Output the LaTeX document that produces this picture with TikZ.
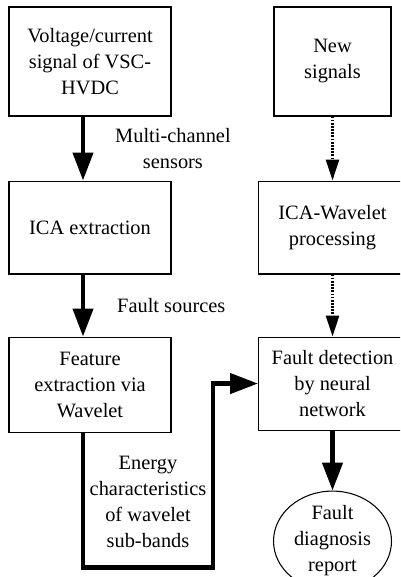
\documentclass[tikz,border=0pt]{standalone}
\usepackage{fontspec}
\setmainfont{Liberation Serif}
\usepackage{tikz}
\usetikzlibrary{shapes,arrows.meta,positioning,calc}
\usepackage{xcolor}

\begin{document}
\begin{tikzpicture}[x=0.02cm, y=-0.02cm,
    >={Triangle[length=0.56cm, width=0.4cm]},
    stage/.style={rectangle, draw, line width=0.6pt, align=center, inner sep=1pt, font=\fontsize{11.6}{14.8}\selectfont},
    result/.style={ellipse, draw, line width=0.6pt, align=center, inner xsep=0pt, inner ysep=-2pt, minimum width=2.36cm, minimum height=2cm, font=\fontsize{11.6}{14.8}\selectfont},
    flow/.style={->, line width=2.5pt},
    newflow/.style={-{Triangle[length=0.42cm, width=0.26cm]}, dash pattern=on 1pt off 0.8pt, line width=1.5pt},
    note/.style={align=center, inner sep=0pt, font=\fontsize{11.6}{14.8}\selectfont}]

    \useasboundingbox (0,0) rectangle (400,577);
    \clip (0,0) rectangle (400,577);

    \node[stage, minimum width=3.24cm, minimum height=2.18cm] (signal) at (90,61.5) {Voltage/current\\ signal of VSC-\\ HVDC};
    \node[stage, minimum width=3.24cm, minimum height=1.86cm, below=1.28cm of signal] (ica) {ICA extraction};
    \node[stage, minimum width=3.24cm, minimum height=1.9cm, below=1.24cm of ica] (feature) {Feature\\ extraction via\\ Wavelet};

    \node[stage, minimum width=2.34cm, minimum height=2.18cm, right=2.04cm of signal] (newsig) {New\\ signals};
    \node[stage, minimum width=2.96cm, minimum height=1.86cm, below=1.28cm of newsig] (icawav) {ICA-Wavelet\\ processing};
    \node[stage, minimum width=2.96cm, minimum height=1.86cm, below=1.24cm of icawav] (detect) {Fault detection\\ by neural\\ network};
    \node[result, below=1.2cm of detect] (report) {Fault\\ diagnosis\\ report};

    \draw[flow] ([xshift=-0.14cm]signal.south) -- node[note, midway, right=0.6cm] (sensors) {Multi-channel\\ sensors} ([xshift=-0.14cm]ica.north);
    \draw[flow] ([xshift=-0.14cm]ica.south) -- node[note, midway, right=0.64cm] (sources) {Fault sources} ([xshift=-0.14cm]feature.north);
    \draw[flow] ([xshift=-0.14cm]feature.south) -- ++(0,135) -- ++(130,0) |- (detect.west);

    \draw[newflow] (newsig) -- (icawav);
    \draw[newflow] (icawav) -- (detect);
    \draw[flow] (detect) -- (report);

    \node[note] (energy) at ([xshift=1.16cm, yshift=-1.38cm]feature.south) {Energy\\ characteristics\\ of wavelet\\ sub-bands};
\end{tikzpicture}
\end{document}
